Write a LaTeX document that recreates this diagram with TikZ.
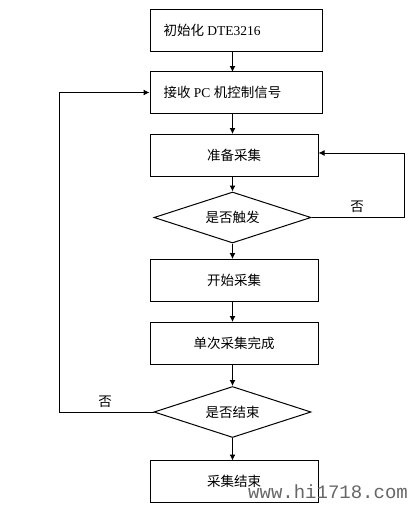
\documentclass[tikz,border=0pt]{standalone}
\usepackage{fontspec}
\setmainfont{Liberation Serif}
\newfontfamily\cjk{Noto Sans CJK SC}
\newfontfamily\wmfont{Liberation Mono}
\usetikzlibrary{shapes.geometric,arrows.meta}
\begin{document}
\begin{tikzpicture}[x=1pt,y=-1pt,
  boxa/.style={draw,line width=1pt,minimum width=172pt,minimum height=42pt,inner sep=0pt,font=\fontsize{13.5pt}{15pt}\selectfont},
  boxb/.style={draw,line width=1pt,minimum width=168pt,minimum height=42pt,inner sep=0pt,font=\cjk\fontsize{13.5pt}{15pt}\selectfont},
  dec/.style={draw,line width=1pt,diamond,aspect=3,minimum width=157pt,minimum height=51pt,inner sep=0pt,font=\cjk\fontsize{13.5pt}{15pt}\selectfont},
  arr/.style={line width=1pt,-{Latex[length=6pt,width=6pt]}},
  lbl/.style={font=\cjk\fontsize{13.5pt}{15pt}\selectfont}]
\useasboundingbox (0,0) rectangle (416,512);
\node[boxa] (b1) at (236,30) {};
\node[anchor=west,font=\fontsize{13.5pt}{15pt}\selectfont] (t1) at (160,30) {{\cjk 初始化} DTE3216};
\node[boxa] (b2) at (236,92.5) {};
\node[anchor=west,font=\fontsize{13.5pt}{15pt}\selectfont] (t2) at (160,92.5) {{\cjk 接收} PC {\cjk 机控制信号}};
\node[boxb] (b3) at (234,155) {准备采集};
\node[dec] (d1) at (232.5,217.5) {是否触发};
\node[boxb] (b4) at (234,280) {开始采集};
\node[boxb] (b5) at (234,343) {单次采集完成};
\node[dec] (d2) at (232.5,412) {是否结束};
\node[boxb] (b6) at (234,481.5) {采集结束};
\coordinate (c1) at (404,217.5);
\coordinate (c2) at (404,153);
\coordinate (c3) at (59,412);
\coordinate (c4) at (59,92.5);
\draw[arr] (232.5,51) -- (232.5,72);
\draw[arr] (232.5,113.5) -- (232.5,134);
\draw[arr] (232.5,176) -- (d1.north);
\draw[arr] (d1.south) -- (232.5,259);
\draw[arr] (232.5,301) -- (232.5,322);
\draw[arr] (232.5,364) -- (d2.north);
\draw[arr] (d2.south) -- (232.5,460.5);
\draw[arr] (d1.east) -- (c1) -- (c2) -- (b3.east |- c2);
\draw[arr] (d2.west) -- (c3) -- (c4) -- (b2.west);
\node[lbl] (n1) at (357,207) {否};
\node[lbl] (n2) at (105,402) {否};
\node[font=\wmfont\fontsize{19pt}{20pt}\selectfont,text=black!60,anchor=base west,inner sep=0pt] (wm) at (248,498) {www.hi1718.com};
\end{tikzpicture}
\end{document}
